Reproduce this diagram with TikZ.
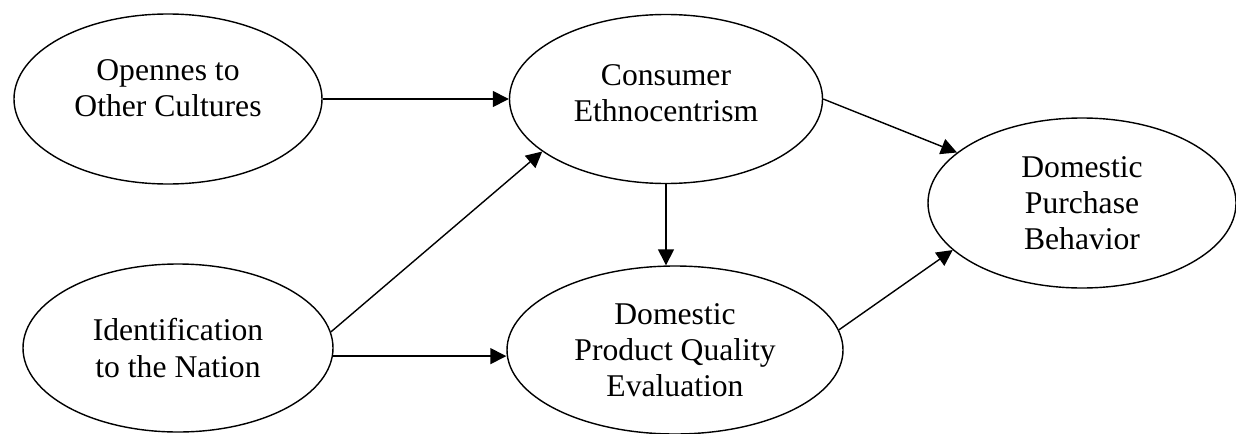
\documentclass[tikz,border=0pt]{standalone}
\usepackage{fontspec}
\setmainfont{Liberation Serif}
\usetikzlibrary{shapes,arrows.meta}

\tikzset{
  construct/.style={ellipse, draw, line width=0.8pt, inner sep=0pt, align=center,
    font=\fontsize{18pt}{20.5pt}\selectfont},
  effect/.style={line width=0.8pt, -{Triangle[length=0.32cm,width=0.32cm]}}
}

\begin{document}
\begin{tikzpicture}
\useasboundingbox (0,0) rectangle (24.72,-8.66);

\node[construct, minimum width=6.16cm, minimum height=3.4cm] (open) at (3.36,-1.98) {Opennes to\\Other Cultures\\[-0.3cm]};
\node[construct, minimum width=6.26cm, minimum height=3.38cm] (cons) at (13.32,-1.98) {Consumer\\Ethnocentrism\\[-0.5cm]};
\node[construct, minimum width=6.2cm, minimum height=3.36cm] (ident) at (3.56,-6.96) {Identification\\to the Nation};
\node[construct, minimum width=6.72cm, minimum height=3.36cm] (dpq) at (13.5,-7) {Domestic\\Product Quality\\Evaluation};
\node[construct, minimum width=6.16cm, minimum height=3.4cm] (purch) at (21.64,-4.06) {Domestic\\Purchase\\Behavior};

\draw[effect] (open.east) -- (cons.west);
\draw[effect] (ident.6) -- (cons.203);
\draw[effect] (ident.-3) -- (ident.-3 -| dpq.west);
\draw[effect] (cons.south) -- (cons.south |- dpq.north);
\draw[effect] (cons.east) -- (purch.158);
\draw[effect] (dpq.7) -- (purch.200);
\end{tikzpicture}
\end{document}
